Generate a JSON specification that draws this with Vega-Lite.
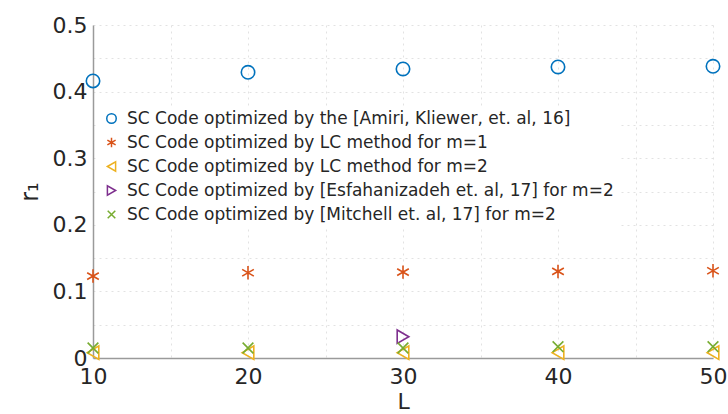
{
  "$schema": "https://vega.github.io/schema/vega-lite/v6.json",
  "autosize": "none",
  "width": 620,
  "height": 333,
  "padding": {"left": 93, "top": 25, "right": 15, "bottom": 56},
  "background": "white",
  "config": {
    "font": "DejaVu Sans",
    "view": {"stroke": null}
  },
  "data": {
    "values": [
      {"L": 30, "r1": 0.032, "series": "SC Code optimized by [Esfahanizadeh et. al, 17] for m=2"},
      {"L": 10, "r1": 0.416, "series": "SC Code optimized by the [Amiri, Kliewer, et. al, 16]"},
      {"L": 20, "r1": 0.429, "series": "SC Code optimized by the [Amiri, Kliewer, et. al, 16]"},
      {"L": 30, "r1": 0.434, "series": "SC Code optimized by the [Amiri, Kliewer, et. al, 16]"},
      {"L": 40, "r1": 0.437, "series": "SC Code optimized by the [Amiri, Kliewer, et. al, 16]"},
      {"L": 50, "r1": 0.438, "series": "SC Code optimized by the [Amiri, Kliewer, et. al, 16]"},
      {"L": 10, "r1": 0.123, "series": "SC Code optimized by LC method for m=1"},
      {"L": 20, "r1": 0.128, "series": "SC Code optimized by LC method for m=1"},
      {"L": 30, "r1": 0.129, "series": "SC Code optimized by LC method for m=1"},
      {"L": 40, "r1": 0.130, "series": "SC Code optimized by LC method for m=1"},
      {"L": 50, "r1": 0.131, "series": "SC Code optimized by LC method for m=1"},
      {"L": 10, "r1": 0.008, "series": "SC Code optimized by LC method for m=2"},
      {"L": 20, "r1": 0.008, "series": "SC Code optimized by LC method for m=2"},
      {"L": 30, "r1": 0.008, "series": "SC Code optimized by LC method for m=2"},
      {"L": 40, "r1": 0.008, "series": "SC Code optimized by LC method for m=2"},
      {"L": 50, "r1": 0.008, "series": "SC Code optimized by LC method for m=2"},
      {"L": 10, "r1": 0.015, "series": "SC Code optimized by [Mitchell et. al, 17] for m=2"},
      {"L": 20, "r1": 0.015, "series": "SC Code optimized by [Mitchell et. al, 17] for m=2"},
      {"L": 30, "r1": 0.015, "series": "SC Code optimized by [Mitchell et. al, 17] for m=2"},
      {"L": 40, "r1": 0.017, "series": "SC Code optimized by [Mitchell et. al, 17] for m=2"},
      {"L": 50, "r1": 0.017, "series": "SC Code optimized by [Mitchell et. al, 17] for m=2"}
    ]
  },
  "mark": {"type": "point", "filled": false, "strokeWidth": 1.6, "size": 180, "opacity": 1, "clip": false},
  "encoding": {
    "x": {
      "field": "L",
      "type": "quantitative",
      "scale": {"domain": [10, 50], "nice": false, "zero": false},
      "axis": {
        "title": "L",
        "values": [10, 15, 20, 25, 30, 35, 40, 45, 50],
        "labelExpr": "datum.value % 10 === 0 ? datum.value : ''",
        "labelFontSize": 22,
        "labelColor": "#262626",
        "labelPadding": 8,
        "labelFlush": false,
        "titleFontSize": 22,
        "titleFontWeight": "normal",
        "titleColor": "#262626",
        "titlePadding": 4,
        "ticks": false,
        "domainColor": "#9a9a9a",
        "domainWidth": 1.5,
        "grid": true,
        "gridColor": "#e2e2e2",
        "gridDash": [2, 4],
        "gridWidth": 1
      }
    },
    "y": {
      "field": "r1",
      "type": "quantitative",
      "scale": {"domain": [0, 0.5], "nice": false},
      "axis": {
        "title": "r₁",
        "values": [0, 0.05, 0.1, 0.15, 0.2, 0.25, 0.3, 0.35, 0.4, 0.45, 0.5],
        "labelExpr": "abs(datum.value * 10 - round(datum.value * 10)) < 0.001 ? format(datum.value, '~f') : ''",
        "labelFontSize": 22,
        "labelColor": "#262626",
        "labelPadding": 6,
        "labelFlush": false,
        "titleFontSize": 24,
        "titleFontWeight": "normal",
        "titleColor": "#262626",
        "titlePadding": 10,
        "ticks": false,
        "domainColor": "#9a9a9a",
        "domainWidth": 1.5,
        "grid": true,
        "gridColor": "#e2e2e2",
        "gridDash": [2, 4],
        "gridWidth": 1
      }
    },
    "color": {
      "field": "series",
      "type": "nominal",
      "scale": {
        "domain": [
          "SC Code optimized by the [Amiri, Kliewer, et. al, 16]",
          "SC Code optimized by LC method for m=1",
          "SC Code optimized by LC method for m=2",
          "SC Code optimized by [Esfahanizadeh et. al, 17] for m=2",
          "SC Code optimized by [Mitchell et. al, 17] for m=2"
        ],
        "range": ["#0072BD", "#D95319", "#EDB120", "#7E2F8E", "#77AC30"]
      },
      "legend": {
        "title": null,
        "orient": "none",
        "legendX": 6,
        "legendY": 81,
        "fillColor": "white",
        "padding": 4,
        "labelFontSize": 17,
        "labelColor": "#262626",
        "labelOffset": 7,
        "labelLimit": 700,
        "rowPadding": 6,
        "symbolSize": 90,
        "symbolStrokeWidth": 1.5,
        "symbolFillColor": "transparent"
      }
    },
    "shape": {
      "field": "series",
      "type": "nominal",
      "scale": {
        "domain": [
          "SC Code optimized by the [Amiri, Kliewer, et. al, 16]",
          "SC Code optimized by LC method for m=1",
          "SC Code optimized by LC method for m=2",
          "SC Code optimized by [Esfahanizadeh et. al, 17] for m=2",
          "SC Code optimized by [Mitchell et. al, 17] for m=2"
        ],
        "range": [
          "circle",
          "M0,-1L0,1M-0.87,-0.5L0.87,0.5M-0.87,0.5L0.87,-0.5",
          "triangle-left",
          "triangle-right",
          "M-0.8,-0.8L0.8,0.8M-0.8,0.8L0.8,-0.8"
        ]
      },
      "legend": null
    }
  }
}
